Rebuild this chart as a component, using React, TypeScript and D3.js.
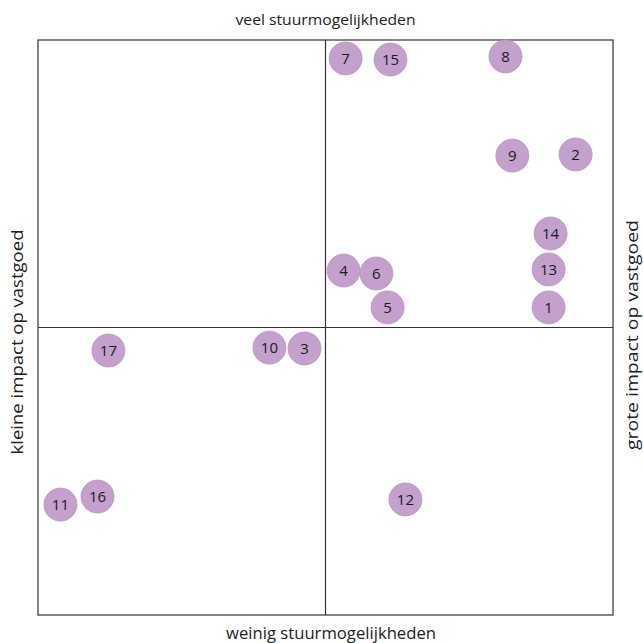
import * as React from 'react';
import * as d3 from 'd3';

// punten: x = stuurmogelijkheden/impact, y = veel/weinig
const labels = ['7', '15', '8', '9', '2', '14', '13', '1', '4', '6', '5', '10', '3', '17', '16', '11', '12'];
const xValues = [0.7, 2.26, 6.26, 6.5, 8.7, 7.83, 7.76, 7.76, 0.63, 1.77, 2.16, -1.95, -0.73, -7.55, -7.93, -9.22, 2.78];
const yValues = [9.36, 9.32, 9.43, 5.98, 6.02, 3.27, 2.02, 0.7, 1.98, 1.88, 0.7, -0.7, -0.73, -0.8, -5.88, -6.16, -5.98];

const W = 643;
const H = 643;
const left = 38, right = 613, top = 40, bottom = 615;

export default function App() {
  const x = d3.scaleLinear().domain([-10, 10]).range([left, right]);
  const y = d3.scaleLinear().domain([-10, 10]).range([bottom, top]);
  const font = '"Open Sans", sans-serif';

  return (
    <svg width={W} height={H} style={{ position: 'absolute', left: 0, top: 0 }} fontFamily={font}>
      <rect x={left} y={top} width={right - left} height={bottom - top} fill="none" stroke="#333" strokeWidth={1.2} />
      <line x1={x(0)} x2={x(0)} y1={top} y2={bottom} stroke="#333" strokeWidth={1.2} />
      <line x1={left} x2={right} y1={y(0)} y2={y(0)} stroke="#333" strokeWidth={1.2} />

      <text x={x(0)} y={25} textAnchor="middle" fontSize={15} fill="#222"
        textLength={180} lengthAdjust="spacingAndGlyphs">veel stuurmogelijkheden</text>
      <text x={331} y={639} textAnchor="middle" fontSize={15.5} fill="#222"
        textLength={210} lengthAdjust="spacingAndGlyphs">weinig stuurmogelijkheden</text>
      <text transform={`translate(23, 342) rotate(-90)`} textAnchor="middle" fontSize={15.5} fill="#222"
        textLength={225} lengthAdjust="spacingAndGlyphs">kleine impact op vastgoed</text>
      <text transform={`translate(638, 335) rotate(-90)`} textAnchor="middle" fontSize={15.5} fill="#222"
        textLength={230} lengthAdjust="spacingAndGlyphs">grote impact op vastgoed</text>

      {labels.map((l, i) => (
        <g key={i} transform={`translate(${x(xValues[i])}, ${y(yValues[i])})`}>
          <circle r={16.5} fill="#c4a0cc" stroke="#b893c0" strokeWidth={0.8} />
          <text textAnchor="middle" dy="0.36em" fontSize={15} fill="#1a1a24">{l}</text>
        </g>
      ))}
    </svg>
  );
}
